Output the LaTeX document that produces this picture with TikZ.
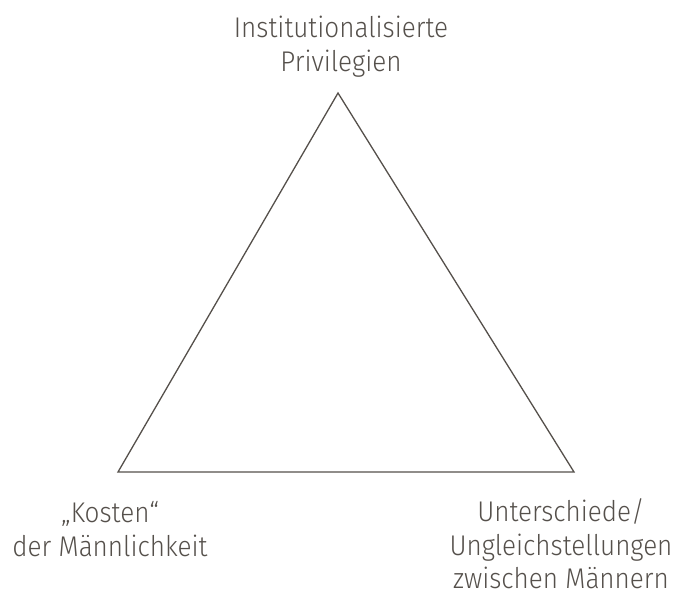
\documentclass[tikz,border=0pt]{standalone}
\usepackage{fontspec}
\setmainfont[FakeStretch=0.915]{Fira Sans Light}
\definecolor{ink}{HTML}{55504B}
\begin{document}
\begin{tikzpicture}[x=1pt,y=-1pt,
  lbl/.style={align=center,text=ink,font=\fontsize{28.5}{33.7}\selectfont,inner sep=0pt},
  edge/.style={draw=ink,line width=1.3pt,line join=miter}]
\useasboundingbox (0,0) rectangle (687,594);
\coordinate (T) at (338,93);
\coordinate (L) at (118,472);
\coordinate (R) at (574,472);
\draw[edge] (T) -- (L) -- (R) -- cycle;
\node[lbl,anchor=north] (top) at (341,16) {Institutionalisierte\\Privilegien};
\node[lbl,anchor=north] (left) at (110,501.5) {„Kosten“\\der Männlichkeit};
\node[lbl,anchor=north] (right) at (561,498.5) {Unterschiede/\\Ungleichstellungen\\zwischen Männern};
\end{tikzpicture}
\end{document}
